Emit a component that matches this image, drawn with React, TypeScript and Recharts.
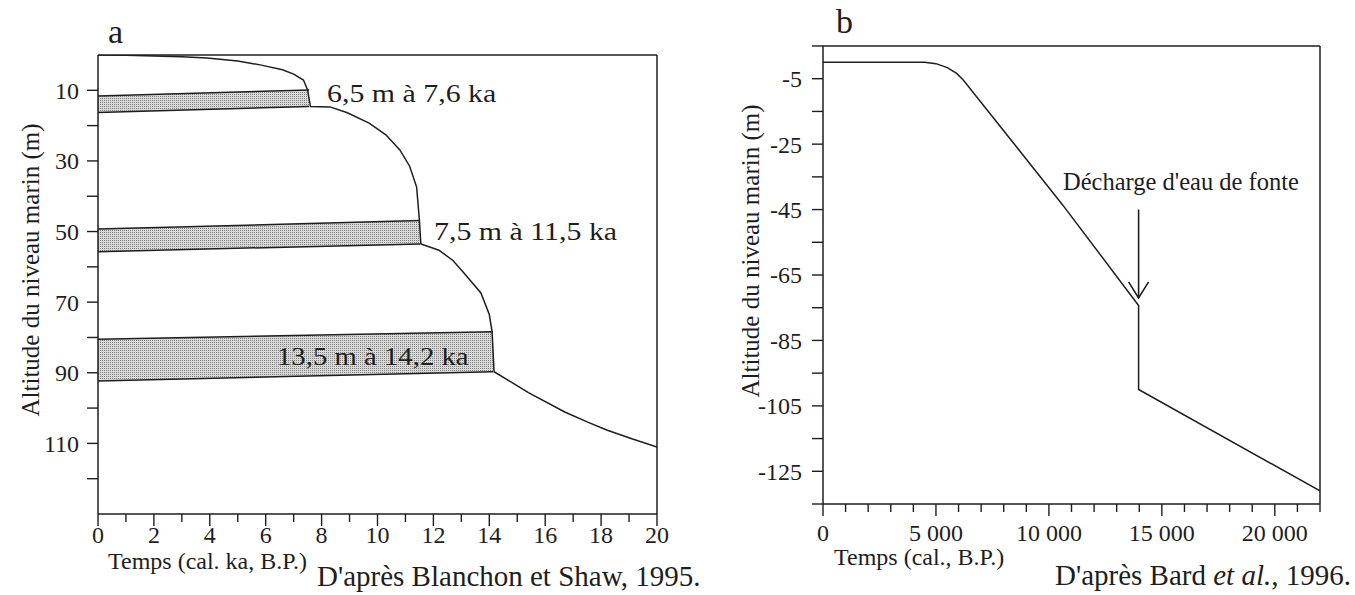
import React from 'react';
import { ComposedChart, Line, Area, XAxis, YAxis, ReferenceLine } from 'recharts';

const INK = '#1e1e1e';
const SERIF = '"Liberation Serif", "Times New Roman", Times, serif';

// panel a: Blanchon & Shaw 1995, age (ka) vs depth (m)
const ageA = [0, 1, 2, 3, 3.9, 5, 5.8, 6.6, 7.0, 7.35, 7.5, 7.6, 8.3, 8.9, 9.7, 10.3, 10.8, 11.15, 11.4, 11.5, 11.55, 12.2, 12.7, 13.1, 13.7, 14.0, 14.1, 14.17, 15.4, 16.7, 17.5, 18.2, 19.1, 20];
const depthA = [0, 0.1, 0.25, 0.5, 0.85, 1.7, 2.8, 4.2, 5.4, 7.1, 9.9, 14.6, 14.7, 16.3, 19.3, 22.6, 26.9, 31.5, 37.4, 46.9, 53.5, 55.3, 58.2, 61.8, 67.4, 73.5, 78.4, 89.7, 95.6, 101.1, 103.9, 106.2, 108.7, 111];

// shaded steps (melt-water pulses): left / right ends
const stepAge1 = [0, 7.55];
const stepTop1 = [11.6, 9.9];
const stepBase1 = [16.3, 14.6];
const stepAge2 = [0, 11.52];
const stepTop2 = [49.3, 46.9];
const stepBase2 = [55.7, 53.5];
const stepAge3 = [0, 14.13];
const stepTop3 = [80.5, 78.4];
const stepBase3 = [92.3, 89.7];

const ticksAx = [0, 1, 2, 3, 4, 5, 6, 7, 8, 9, 10, 11, 12, 13, 14, 15, 16, 17, 18, 19, 20];
const labelsAx = [0, 2, 4, 6, 8, 10, 12, 14, 16, 18, 20];
const ticksAy = [10, 20, 30, 40, 50, 60, 70, 80, 90, 100, 110, 120];
const labelsAy = [10, 30, 50, 70, 90, 110];

// panel b: Bard et al. 1996, age (yr) vs level (m)
const ageB = [0, 4500, 5000, 5500, 5900, 6200, 10600, 13970, 13970, 22000];
const levelB = [0, 0, -0.4, -1.6, -3.3, -5.3, -43.5, -74.3, -100, -131];

const ticksBx = [0, 1000, 2000, 3000, 4000, 5000, 6000, 7000, 8000, 9000, 10000, 11000, 12000, 13000, 14000, 15000, 16000, 17000, 18000, 19000, 20000, 21000, 22000];
const labelsBx = [0, 5000, 10000, 15000, 20000];
const ticksBy = [5, -5, -15, -25, -35, -45, -55, -65, -75, -85, -95, -105, -115, -125, -135];
const labelsBy = [-5, -25, -45, -65, -85, -105, -125];

// arrow "Décharge d'eau de fonte"
const pulseAge = 13970;
const pulseFrom = -45;
const pulseTo = -72;

const curveA = ageA.map((age, i) => ({ age, depth: depthA[i] }));
const step = (ages: number[], tops: number[], bases: number[]) =>
  ages.map((age, i) => ({ age, range: [tops[i], bases[i]] }));
const steps = [
  step(stepAge1, stepTop1, stepBase1),
  step(stepAge2, stepTop2, stepBase2),
  step(stepAge3, stepTop3, stepBase3),
];
const curveB = ageB.map((age, i) => ({ age, level: levelB[i] }));

const fmtThousands = (v: number) =>
  v >= 1000 ? `${Math.floor(v / 1000)}\u00a0${String(v % 1000).padStart(3, '0')}` : String(v);

const txt = { style: { fontFamily: SERIF }, fontFamily: SERIF, fill: INK };

function makeXTick(labels: number[], labelDy: number, fmt: (v: number) => string) {
  return (props: any) => {
    const { x, y, payload } = props;
    const major = labels.includes(payload.value);
    return (
      <g>
        <line x1={x} y1={y} x2={x} y2={y + (major ? 12 : 8)} stroke={INK} strokeWidth={1.4} />
        {major && (
          <text x={x} y={y + labelDy} textAnchor="middle" fontSize={24} {...txt}>
            {fmt(payload.value)}
          </text>
        )}
      </g>
    );
  };
}

function makeYTick(labels: number[], labelDx: number) {
  return (props: any) => {
    const { x, y, payload } = props;
    const major = labels.includes(payload.value);
    return (
      <g>
        <line x1={x - 11} y1={y} x2={x} y2={y} stroke={INK} strokeWidth={1.4} />
        {major && (
          <text x={x - labelDx} y={y} dy="0.35em" textAnchor="end" fontSize={24} {...txt}>
            {payload.value}
          </text>
        )}
      </g>
    );
  };
}

const Arrow = (props: any) => {
  const { x1, y1, x2, y2 } = props;
  return (
    <g stroke={INK} strokeWidth={1.6} fill="none">
      <line x1={x1} y1={y1} x2={x2} y2={y2} />
      <polyline points={`${x2 - 10},${y2 - 16} ${x2},${y2} ${x2 + 10},${y2 - 16}`} />
    </g>
  );
};

const Stipple = () => (
  <defs>
    <pattern id="stipple" width="2" height="2" patternUnits="userSpaceOnUse">
      <rect width="2" height="2" fill="#dadada" />
      <rect width="1" height="1" fill="#7e7e7e" />
    </pattern>
  </defs>
);

// slightly wide lettering, as in the scanned figure
const Wide = ({ x, y, size, children }: any) => (
  <text transform={`translate(${x},${y}) scale(1.15,1)`} fontSize={size} {...txt}>
    {children}
  </text>
);

function PanelA() {
  return (
    <ComposedChart width={690} height={595} margin={{ top: 55, right: 33, bottom: 80, left: 97 }}>
      <Stipple />
      <XAxis
        type="number"
        dataKey="age"
        domain={[0, 20]}
        ticks={ticksAx}
        interval={0}
        height={1}
        tickSize={0}
        tickMargin={0}
        tickLine={false}
        axisLine={{ stroke: INK, strokeWidth: 1.5 }}
        tick={makeXTick(labelsAx, 29, (v) => String(v))}
        allowDataOverflow
      />
      <YAxis
        type="number"
        domain={[0, 130]}
        reversed
        ticks={ticksAy}
        interval={0}
        width={1}
        tickSize={0}
        tickMargin={0}
        tickLine={false}
        axisLine={{ stroke: INK, strokeWidth: 1.5 }}
        tick={makeYTick(labelsAy, 19)}
        allowDataOverflow
      />
      <ReferenceLine y={0} stroke={INK} strokeWidth={1.5} />
      <ReferenceLine x={20} stroke={INK} strokeWidth={1.5} />
      {steps.map((d, i) => (
        <Area
          key={i}
          data={d}
          dataKey="range"
          type="linear"
          stroke={INK}
          strokeWidth={1.5}
          fill="url(#stipple)"
          fillOpacity={1}
          dot={false}
          activeDot={false}
          isAnimationActive={false}
        />
      ))}
      <Line
        data={curveA}
        dataKey="depth"
        type="linear"
        stroke={INK}
        strokeWidth={1.5}
        dot={false}
        activeDot={false}
        isAnimationActive={false}
      />
    </ComposedChart>
  );
}

function PanelB() {
  return (
    <ComposedChart width={665} height={595} margin={{ top: 46, right: 35, bottom: 90, left: 132 }}>
      <XAxis
        type="number"
        dataKey="age"
        domain={[0, 22000]}
        ticks={ticksBx}
        interval={0}
        height={1}
        tickSize={0}
        tickMargin={0}
        tickLine={false}
        axisLine={{ stroke: INK, strokeWidth: 1.5 }}
        tick={makeXTick(labelsBx, 37, fmtThousands)}
        allowDataOverflow
      />
      <YAxis
        type="number"
        domain={[-135, 5]}
        ticks={ticksBy}
        interval={0}
        width={1}
        tickSize={0}
        tickMargin={0}
        tickLine={false}
        axisLine={{ stroke: INK, strokeWidth: 1.5 }}
        tick={makeYTick(labelsBy, 21)}
        allowDataOverflow
      />
      <ReferenceLine y={5} stroke={INK} strokeWidth={1.5} />
      <ReferenceLine x={22000} stroke={INK} strokeWidth={1.5} />
      <ReferenceLine
        segment={[{ x: pulseAge, y: pulseFrom }, { x: pulseAge, y: pulseTo }]}
        stroke={INK}
        shape={Arrow}
      />
      <Line
        data={curveB}
        dataKey="level"
        type="linear"
        stroke={INK}
        strokeWidth={1.5}
        dot={false}
        activeDot={false}
        isAnimationActive={false}
      />
    </ComposedChart>
  );
}

export default function App() {
  return (
    <div style={{ position: 'absolute', left: 0, top: 0, width: 1355, height: 595, background: '#fff', overflow: 'hidden' }}>
      <div style={{ position: 'absolute', left: 0, top: 0 }}>
        <PanelA />
      </div>
      <div style={{ position: 'absolute', left: 690, top: 0 }}>
        <PanelB />
      </div>
      <svg width={1355} height={595} style={{ position: 'absolute', left: 0, top: 0, pointerEvents: 'none' }}>
        <text x={108} y={43} fontSize={34} {...txt}>a</text>
        <Wide x={327} y={102} size={26}>6,5 m à 7,6 ka</Wide>
        <Wide x={434} y={240} size={26}>7,5 m à 11,5 ka</Wide>
        <Wide x={277} y={365} size={25}>13,5 m à 14,2 ka</Wide>
        <text transform="translate(39,270) rotate(-90)" textAnchor="middle" fontSize={25} {...txt}>
          Altitude du niveau marin (m)
        </text>
        <text x={108} y={569} fontSize={24} {...txt}>Temps (cal. ka, B.P.)</text>
        <text x={317} y={586} fontSize={29} {...txt}>D'après Blanchon et Shaw, 1995.</text>

        <text x={836} y={33} fontSize={34} {...txt}>b</text>
        <text x={1063} y={190} fontSize={24.5} {...txt}>Décharge d'eau de fonte</text>
        <text transform="translate(759,251) rotate(-90)" textAnchor="middle" fontSize={25} {...txt}>
          Altitude du niveau marin (m)
        </text>
        <text x={834} y={565} fontSize={24} {...txt}>Temps (cal., B.P.)</text>
        <text x={1055} y={585} fontSize={29} {...txt}>
          D'après Bard <tspan fontStyle="italic">et al.</tspan>, 1996.
        </text>
      </svg>
    </div>
  );
}
